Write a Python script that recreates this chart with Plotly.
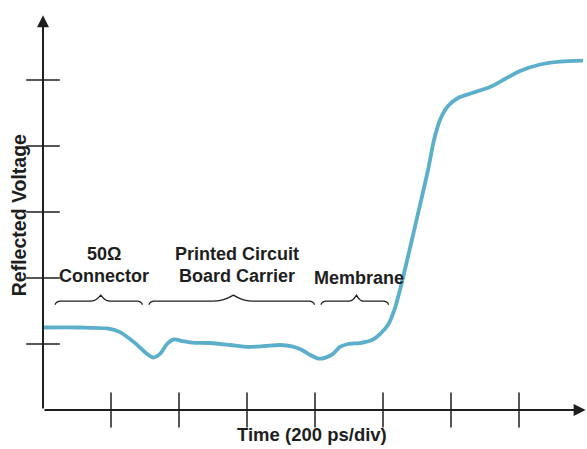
import numpy as np
import plotly.graph_objects as go

# Reflected-voltage trace, time in divisions (200 ps/div), voltage in divisions
time_div = [0.0, 0.544, 0.941, 1.132, 1.353, 1.529, 1.618, 1.721, 1.824, 1.926,
            2.044, 2.191, 2.456, 2.75, 3.015, 3.265, 3.485, 3.676, 3.809, 3.926,
            4.044, 4.147, 4.265, 4.368, 4.485, 4.662, 4.838, 4.956, 5.074, 5.176,
            5.279, 5.397, 5.544, 5.662, 5.75, 5.838, 5.956, 6.103, 6.309, 6.574,
            6.794, 7.015, 7.309, 7.603, 7.941]
volt_div = [1.25, 1.25, 1.235, 1.18, 1.015, 0.85, 0.795, 0.85, 1.0, 1.07,
            1.045, 1.02, 1.015, 0.985, 0.955, 0.97, 0.985, 0.96, 0.91, 0.835,
            0.78, 0.79, 0.85, 0.955, 1.0, 1.015, 1.06, 1.15, 1.29, 1.545,
            1.94, 2.455, 3.105, 3.636, 4.09, 4.394, 4.606, 4.727, 4.803, 4.894,
            5.015, 5.136, 5.235, 5.28, 5.295]

x_ticks = [1, 2, 3, 4, 5, 6, 7]
y_ticks = [1, 2, 3, 4, 5]

# Sections of the line under test: (label lines, label x, start, end)
sections = [
    (["50Ω", "Connector"], 0.89, 0.18, 1.46),
    (["Printed Circuit", "Board Carrier"], 2.86, 1.56, 3.99),
    (["Membrane"], 4.64, 4.09, 5.08),
]
section_cusps = [0.85, 2.80, 4.61]

AXIS = "#1e1e1e"
TRACE = "#5cafcb"
FONT = "Liberation Sans, Arial, sans-serif"

fig = go.Figure()


def brace(x0, x1, xc, y=1.65, h=0.1):
    """Horizontal curly brace opening downward, cusp pointing up at xc."""
    pts_x, pts_y = [], []
    r = 0.09
    t = np.linspace(np.pi, np.pi / 2, 8)
    pts_x += list(x0 + r + r * np.cos(t))
    pts_y += list(y - h * 0.55 + h * 0.55 * np.sin(t))
    t = np.linspace(0, 1, 12)
    pts_x += list(x0 + r + (xc - x0 - r) * t)
    pts_y += list(y + h * 0.9 * np.where(t > 0.75, ((t - 0.75) / 0.25) ** 2, 0))
    t = np.linspace(0, 1, 12)
    pts_x += list(xc + (x1 - r - xc) * t)
    pts_y += list(y + h * 0.9 * np.where(t < 0.25, ((0.25 - t) / 0.25) ** 2, 0))
    t = np.linspace(np.pi / 2, 0, 8)
    pts_x += list(x1 - r + r * np.cos(t))
    pts_y += list(y - h * 0.55 + h * 0.55 * np.sin(t))
    return pts_x, pts_y


for (lines, lx, a, b), c in zip(sections, section_cusps):
    bx, by = brace(a, b, c)
    fig.add_trace(go.Scatter(x=bx, y=by, mode="lines",
                             line=dict(color=AXIS, width=1.3, shape="spline"),
                             hoverinfo="skip", cliponaxis=False))

fig.add_trace(go.Scatter(x=time_div, y=volt_div, mode="lines",
                         line=dict(color=TRACE, width=3.8, shape="spline", smoothing=0.7),
                         hoverinfo="skip"))

# tick marks crossing the axes
fig.add_trace(go.Scatter(x=x_ticks, y=[0] * len(x_ticks), mode="markers",
                         marker=dict(symbol="line-ns", size=25,
                                     line=dict(color=AXIS, width=1.5)),
                         cliponaxis=False, hoverinfo="skip"))
fig.add_trace(go.Scatter(x=[0] * len(y_ticks), y=y_ticks, mode="markers",
                         marker=dict(symbol="line-ew", size=24,
                                     line=dict(color=AXIS, width=1.5)),
                         cliponaxis=False, hoverinfo="skip"))

annotations = [
    dict(x=0, y=5.98, ax=0, ay=0, xref="x", yref="y", axref="x", ayref="y",
         text="", showarrow=True, arrowhead=2, arrowsize=1.2, arrowwidth=2,
         arrowcolor=AXIS),
    dict(x=7.98, y=0, ax=0, ay=0, xref="x", yref="y", axref="x", ayref="y",
         text="", showarrow=True, arrowhead=2, arrowsize=1.2, arrowwidth=2,
         arrowcolor=AXIS),
    dict(x=-0.044, y=0.492, xref="paper", yref="paper", text="<b>Reflected Voltage</b>",
         textangle=-90, showarrow=False, xanchor="center", yanchor="middle",
         font=dict(size=19.5, color=AXIS, family=FONT)),
    dict(x=0.494, y=-0.063, xref="paper", yref="paper", text="<b>Time (200 ps/div)</b>",
         showarrow=False, xanchor="center", yanchor="middle",
         font=dict(size=18.5, color=AXIS, family=FONT)),
]

label_rows = {1: [2.0], 2: [2.36, 2.03]}
for lines, lx, a, b in sections:
    ys = label_rows[len(lines)]
    for txt, yy in zip(lines, ys):
        annotations.append(dict(x=lx, y=yy, xref="x", yref="y", text=f"<b>{txt}</b>",
                                showarrow=False,
                                font=dict(size=18, color=AXIS, family=FONT)))

fig.update_layout(
    width=587, height=449,
    margin=dict(l=43, r=0, t=14, b=39),
    paper_bgcolor="white", plot_bgcolor="white",
    showlegend=False,
    xaxis=dict(range=[0, 8], visible=False, fixedrange=True),
    yaxis=dict(range=[0, 6], visible=False, fixedrange=True),
    annotations=annotations,
)

fig.write_html("out.html")
